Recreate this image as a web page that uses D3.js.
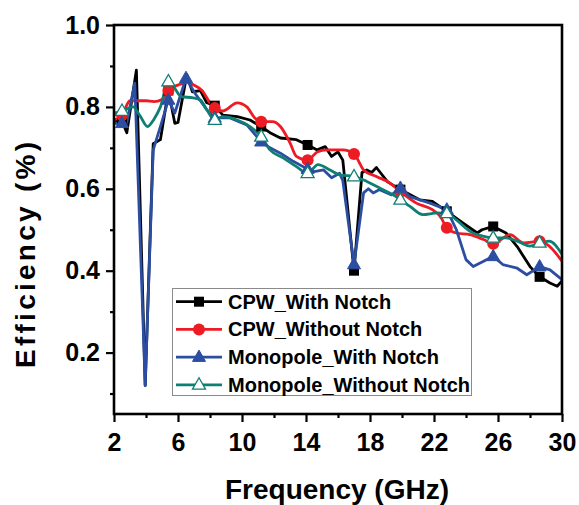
<!DOCTYPE html>
<html><head><meta charset="utf-8">
<script src="https://cdn.jsdelivr.net/npm/d3@7"></script>
<style>
html,body{margin:0;padding:0;background:#fff;}
svg{display:block;font-family:"Liberation Sans",Arial,Helvetica,sans-serif;}
</style></head>
<body><svg id="chart" width="579" height="505"></svg>
<script>
const seriesNames = ["CPW_With Notch","CPW_Without Notch","Monopole_With Notch","Monopole_Without Notch"];
const seriesColors = ["#000000","#ed1c24","#2b4ea2","#0f7f73"];
const xTicks = [2,6,10,14,18,22,26,30];
const xMinorTicks = [4,8,12,16,20,24,28];
const yTicks = [0.2,0.4,0.6,0.8,1.0];
const yMinorTicks = [0.1,0.3,0.5,0.7,0.9];
const markerFreqs = [2.5,5.4,8.3,11.2,14.1,17.0,19.9,22.8,25.7,28.6];
const blueMarkerFreqs = [2.5,5.4,6.5,8.3,11.2,14.1,17.0,19.9,22.8,25.7,28.6];

const cpwWith = [[2.0,0.765],[2.5,0.765],[2.8,0.737],[3.4,0.89],[3.95,0.12],[4.45,0.71],[4.9,0.72],[5.4,0.84],[5.8,0.76],[6.0,0.762],[6.55,0.878],[6.9,0.837],[7.4,0.84],[7.8,0.81],[8.3,0.803],[8.8,0.78],[9.7,0.776],[10.5,0.768],[11.2,0.752],[11.75,0.737],[12.4,0.724],[13.4,0.72],[14.1,0.707],[14.7,0.695],[15.2,0.703],[15.6,0.679],[16.0,0.69],[16.3,0.67],[17.0,0.40],[17.5,0.64],[17.8,0.646],[18.1,0.64],[18.4,0.652],[19.1,0.617],[19.9,0.598],[21.1,0.573],[21.9,0.569],[22.8,0.545],[23.8,0.517],[24.7,0.492],[25.0,0.50],[25.7,0.508],[26.5,0.492],[27.2,0.459],[28.0,0.41],[28.6,0.385],[29.25,0.37],[29.7,0.362],[30.0,0.375]];
const cpwWithout = [[2.0,0.768],[2.5,0.78],[3.0,0.815],[4.0,0.815],[4.5,0.813],[5.0,0.818],[5.4,0.84],[6.2,0.856],[6.6,0.86],[7.0,0.853],[7.5,0.84],[8.0,0.81],[8.3,0.797],[8.8,0.79],[9.7,0.81],[10.3,0.80],[10.8,0.773],[11.2,0.764],[11.9,0.764],[12.4,0.752],[13.0,0.712],[13.4,0.679],[14.1,0.67],[14.7,0.69],[15.3,0.695],[16.3,0.695],[17.0,0.685],[17.6,0.646],[18.4,0.63],[19.25,0.614],[19.9,0.593],[20.9,0.565],[21.9,0.549],[22.4,0.532],[22.8,0.505],[23.4,0.492],[24.25,0.488],[25.1,0.476],[25.7,0.466],[26.75,0.488],[27.6,0.468],[28.6,0.472],[29.2,0.46],[30.0,0.423]];
const monoWith = [[2.0,0.76],[2.5,0.76],[2.8,0.762],[3.3,0.858],[3.95,0.12],[4.45,0.695],[4.9,0.752],[5.4,0.817],[5.8,0.785],[6.5,0.87],[7.05,0.834],[7.8,0.793],[8.3,0.773],[9.25,0.773],[10.3,0.756],[11.2,0.715],[11.75,0.70],[12.4,0.687],[13.2,0.667],[14.1,0.648],[14.5,0.642],[15.1,0.646],[15.6,0.627],[16.1,0.638],[16.3,0.62],[17.0,0.415],[17.6,0.59],[17.9,0.60],[18.2,0.59],[18.6,0.598],[19.35,0.585],[19.9,0.602],[20.5,0.581],[21.75,0.565],[22.8,0.549],[23.4,0.50],[24.0,0.427],[24.45,0.41],[25.1,0.423],[25.7,0.435],[26.3,0.415],[27.2,0.406],[27.8,0.39],[28.6,0.41],[29.25,0.402],[30.0,0.378]];
const monoWithout = [[2.0,0.785],[2.5,0.79],[3.2,0.80],[3.6,0.78],[4.1,0.752],[4.5,0.77],[4.9,0.80],[5.4,0.862],[5.8,0.845],[6.2,0.825],[6.95,0.822],[7.4,0.817],[7.8,0.793],[8.3,0.768],[8.8,0.776],[9.7,0.768],[10.5,0.752],[11.2,0.727],[11.75,0.695],[12.6,0.675],[13.4,0.654],[14.1,0.638],[14.75,0.659],[15.5,0.646],[16.1,0.634],[17.0,0.63],[17.8,0.618],[18.6,0.602],[19.45,0.585],[19.9,0.573],[20.5,0.557],[21.3,0.537],[22.2,0.541],[22.8,0.54],[23.4,0.524],[24.25,0.496],[25.1,0.484],[25.7,0.48],[26.5,0.48],[27.2,0.472],[28.0,0.46],[28.6,0.468],[29.2,0.472],[30.0,0.44]];

const seriesData = [cpwWith, cpwWithout, monoWith, monoWithout];
const seriesMarkers = [markerFreqs, markerFreqs, blueMarkerFreqs, markerFreqs];
const markerTypes = ["square","circle","triangle","triangleOpen"];

const svg = d3.select("#chart");
const pLeft = 114, pRight = 562, pTop = 25, pBottom = 414;
const x = d3.scaleLinear().domain([2,30]).range([pLeft,pRight]);
const y = d3.scaleLinear().domain([0.05,1.0]).range([pBottom,pTop]);

// axes
const yAxis = d3.axisLeft(y).tickValues(yTicks).tickFormat(d3.format(".1f")).tickSize(8).tickPadding(6);
const gy = svg.append("g").attr("transform",`translate(${pLeft},0)`).call(yAxis);
const yMinor = d3.axisLeft(y).tickValues(yMinorTicks).tickFormat("").tickSize(4);
const gy2 = svg.append("g").attr("transform",`translate(${pLeft},0)`).call(yMinor);
const xAxis = d3.axisBottom(x).tickValues(xTicks).tickFormat(d3.format("d")).tickSize(8).tickPadding(11);
const gx = svg.append("g").attr("transform",`translate(0,${pBottom})`).call(xAxis);
const xMinor = d3.axisBottom(x).tickValues(xMinorTicks).tickFormat("").tickSize(4);
const gx2 = svg.append("g").attr("transform",`translate(0,${pBottom})`).call(xMinor);
[gy,gy2,gx,gx2].forEach(g=>{
  g.select(".domain").remove();
  g.selectAll(".tick line").attr("stroke","#000").attr("stroke-width",2.2);
  g.selectAll(".tick text").attr("font-size",25).attr("font-weight","bold").attr("fill","#000")
    .attr("font-family","'Liberation Sans',Arial,sans-serif");
});

// lines
const curves = [d3.curveLinear, d3.curveMonotoneX, d3.curveLinear, d3.curveMonotoneX];
seriesData.forEach((data,i)=>{
  const line = d3.line().x(d=>x(d[0])).y(d=>y(d[1])).curve(curves[i]);
  svg.append("path").datum(data).attr("d",line).attr("fill","none")
    .attr("stroke",seriesColors[i]).attr("stroke-width",2.8).attr("stroke-linejoin","round");
});

function drawMarker(g, type, cx, cy, color){
  if(type==="square"){
    g.append("rect").attr("x",cx-5).attr("y",cy-5).attr("width",10).attr("height",10).attr("fill",color);
  } else if(type==="circle"){
    g.append("circle").attr("cx",cx).attr("cy",cy).attr("r",6).attr("fill",color);
  } else {
    const s = 13, h = s*0.87;
    const pts = [[cx,cy-h*0.62],[cx-s/2,cy+h*0.38],[cx+s/2,cy+h*0.38]];
    const open = type==="triangleOpen";
    g.append("polygon").attr("points",pts.map(p=>p.join(",")).join(" "))
      .attr("fill",open?"#fff":color).attr("stroke",color).attr("stroke-width",open?1.3:1);
  }
}

seriesData.forEach((data,i)=>{
  const g = svg.append("g");
  seriesMarkers[i].forEach(f=>{
    const pt = data.find(d=>Math.abs(d[0]-f)<1e-6);
    if(pt) drawMarker(g, markerTypes[i], x(pt[0]), y(pt[1]), seriesColors[i]);
  });
});

// frame
svg.append("rect").attr("x",pLeft).attr("y",pTop).attr("width",pRight-pLeft).attr("height",pBottom-pTop)
  .attr("fill","none").attr("stroke","#000").attr("stroke-width",2.6);

// legend
const lg = svg.append("g");
lg.append("rect").attr("x",172.5).attr("y",288.5).attr("width",299).attr("height",107)
  .attr("fill","#fff").attr("stroke","#8a8a8a").attr("stroke-width",1);
seriesNames.forEach((name,i)=>{
  const ly = 301.7 + i*27.7;
  lg.append("line").attr("x1",176).attr("x2",222).attr("y1",ly).attr("y2",ly)
    .attr("stroke",seriesColors[i]).attr("stroke-width",2.8);
  drawMarker(lg, markerTypes[i], 199, ly, seriesColors[i]);
  lg.append("text").attr("x",228).attr("y",ly+7).attr("font-size",20).attr("font-weight","bold")
    .attr("fill","#000").text(name);
});

// axis titles
svg.append("text").attr("x",337).attr("y",499).attr("text-anchor","middle")
  .attr("font-size",28).attr("font-weight","bold").attr("fill","#000").text("Frequency (GHz)");
svg.append("text").attr("transform","translate(35,255) rotate(-90)").attr("text-anchor","middle")
  .attr("font-size",28).attr("font-weight","bold").attr("fill","#000")
  .attr("textLength",226).attr("lengthAdjust","spacing").text("Efficiency (%)");
</script></body></html>
